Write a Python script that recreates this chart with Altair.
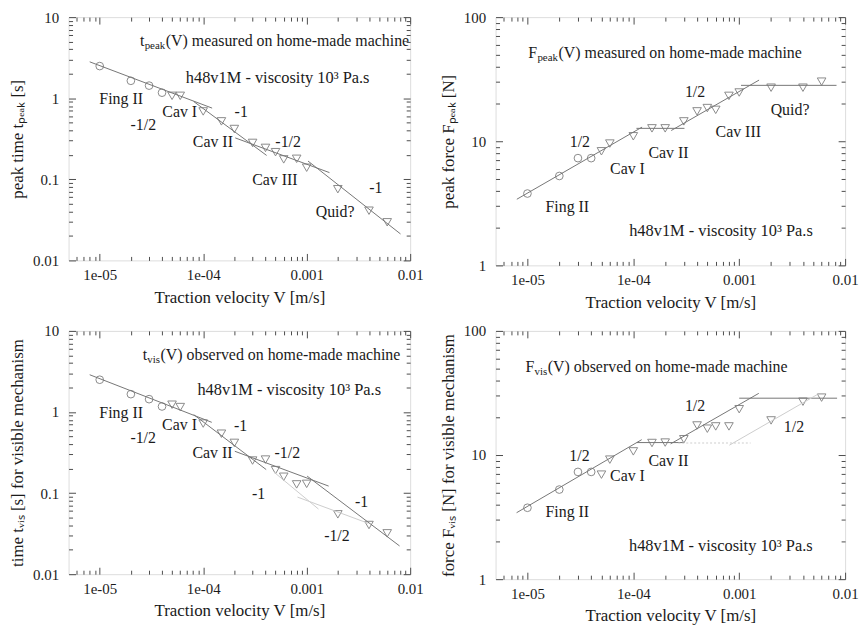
import altair as alt
import pandas as pd

FONT = "Liberation Serif"
INK = "#1a1a1a"
FRAME = "#4d4d4d"
PT = "#8a8a8a"
FIT = "#767676"
LIGHT = "#cdcdcd"

# ---------------- data ----------------
V_CIRC = [1e-5, 2e-5, 3e-5, 4e-5]
V_TRI = [5e-5, 6e-5, 1e-4, 1.5e-4, 2e-4, 3e-4, 4e-4, 5e-4, 6e-4, 8e-4, 1e-3, 2e-3, 4e-3, 6e-3]

TPEAK_CIRC = [2.49, 1.64, 1.43, 1.17]
TPEAK_TRI = [1.07, 1.07, 0.687, 0.518, 0.417, 0.281, 0.244, 0.216, 0.176, 0.179, 0.139, 0.0755, 0.041, 0.0295]

FPEAK_CIRC = [3.79, 5.25, 7.31, 7.31]
FPEAK_TRI = [8.3, 9.58, 10.96, 12.7, 12.7, 14.45, 17.4, 18.5, 17.9, 23.2, 24.7, 27.0, 27.0, 30.2]

TVIS_CIRC = [2.5, 1.66, 1.44, 1.17]
TVIS_TRI = [1.23, 1.15, 0.72, 0.54, 0.416, 0.252, 0.259, 0.192, 0.159, 0.128, 0.130, 0.0547, 0.0404, 0.0319]

FVIS_CIRC = [3.76, 5.27, 7.31, 7.31]
FVIS_TRI = [6.95, 9.18, 10.7, 12.5, 12.6, 13.4, 17.3, 16.3, 17.0, 17.0, 23.4, 19.0, 26.9, 29.0]

# fitted power-law segments: x1, y1, x2, y2
TPEAK_FITS = [(8e-6, 2.81, 1.22e-4, 0.755), (8.1e-5, 0.91, 4.1e-4, 0.197),
              (2.04e-4, 0.324, 1.66e-3, 0.121), (1.03e-3, 0.168, 8.07e-3, 0.0212)]
FPEAK_FITS = [(7.94e-6, 3.41, 1.21e-4, 13.0), (1.07e-4, 12.7, 3.04e-4, 12.7),
              (2.28e-4, 12.2, 1.54e-3, 31.1), (1.04e-3, 28.2, 8.3e-3, 28.2)]
TVIS_FITS = [(8e-6, 2.88, 1.21e-4, 0.746), (8.1e-5, 0.927, 4.06e-4, 0.195),
             (2.02e-4, 0.328, 1.63e-3, 0.122), (1.01e-3, 0.162, 7.9e-3, 0.0223)]
TVIS_LIGHT = [(4.84e-4, 0.181, 1.30e-3, 0.0636), (8.15e-4, 0.0893, 3.94e-3, 0.0424)]
FVIS_FITS = [(7.9e-6, 3.43, 1.2e-4, 13.3), (1.08e-4, 12.6, 3.0e-4, 12.6),
             (2.25e-4, 12.3, 1.53e-3, 31.4), (1e-3, 28.7, 8.4e-3, 28.7)]
FVIS_LIGHT_DOT = [(2.66e-4, 12.5, 1.28e-3, 12.5)]
FVIS_LIGHT = [(8.07e-4, 12.0, 5.5e-3, 30.8)]

# annotations: text, x, y
TPEAK_LABELS = [("Fing II", 1.61e-5, 0.97), ("-1/2", 2.64e-5, 0.47), ("Cav I", 5.93e-5, 0.667),
                ("-1", 2.33e-4, 0.667), ("Cav II", 1.24e-4, 0.286), ("-1/2", 6.62e-4, 0.286),
                ("Cav III", 4.93e-4, 0.098), ("-1", 4.66e-3, 0.079), ("Quid?", 1.88e-3, 0.039)]
FPEAK_LABELS = [("1/2", 3.13e-5, 9.82), ("Fing II", 2.38e-5, 2.96), ("Cav I", 8.8e-5, 5.93),
                ("Cav II", 2.15e-4, 8.07), ("1/2", 3.83e-4, 24.7), ("Cav III", 9.8e-4, 11.8),
                ("Quid?", 3.02e-3, 17.7)]
TVIS_LABELS = [("Fing II", 1.61e-5, 0.97), ("-1/2", 2.63e-5, 0.479), ("Cav I", 5.9e-5, 0.699),
               ("-1", 2.3e-4, 0.679), ("Cav II", 1.23e-4, 0.308), ("-1/2", 6.5e-4, 0.308),
               ("-1", 3.43e-4, 0.096), ("-1", 3.4e-3, 0.0775), ("-1/2", 1.96e-3, 0.0296)]
FVIS_LABELS = [("1/2", 3.1e-5, 9.88), ("Cav I", 8.8e-5, 6.83), ("Fing II", 2.38e-5, 3.47),
               ("Cav II", 2.15e-4, 8.9), ("1/2", 3.83e-4, 24.9), ("1/2", 3.29e-3, 16.8)]

H48_TEXT = "h48v1M - viscosity 10\u00b3 Pa.s"

X_DOMAIN = [5e-6, 1e-2]
X_MAJOR = [1e-5, 1e-4, 1e-3, 1e-2]
X_MINOR = [m * 10.0 ** e for e in (-6, -5, -4, -3) for m in range(2, 10) if 5e-6 <= m * 10.0 ** e < 1e-2]
X_LABELS = "datum.value < 5e-5 ? '1e-05' : datum.value < 5e-4 ? '1e-04' : datum.value < 5e-3 ? '0.001' : '0.01'"

T_DOMAIN = [0.01, 10]
T_MAJOR = [0.01, 0.1, 1, 10]
T_MINOR = [m * 10.0 ** e for e in (-2, -1, 0) for m in range(2, 10)]
T_LABELS = "datum.value < 0.05 ? '0.01' : datum.value < 0.5 ? '0.1' : datum.value < 5 ? '1' : '10'"

F_DOMAIN = [1, 100]
F_MAJOR = [1, 10, 100]
F_MINOR = [m * 10.0 ** e for e in (0, 1) for m in range(2, 10)]
F_LABELS = "datum.value < 5 ? '1' : datum.value < 50 ? '10' : '100'"


def seg_df(segs):
    return pd.DataFrame(segs, columns=["x1", "y1", "x2", "y2"])


def tick_axis(orient, offset, values, size):
    return alt.Axis(orient=orient, offset=offset, values=values, tickSize=size, labels=False,
                    domain=False, grid=False, ticks=True, tickColor=FRAME, tickWidth=1)


def panel(W, H, ydom, ymajor, yminor, ylab, ytitle, circ_y, tri_y, fits, labels,
          sub_first, sub_sub, sub_rest, sub_pos, w_first, w_sub, h48_pos,
          lights=None, lights_dot=None):
    xs = alt.Scale(type="log", domain=X_DOMAIN, nice=False)
    ys = alt.Scale(type="log", domain=ydom, nice=False)

    x_lab = alt.Axis(values=X_MAJOR, labelExpr=X_LABELS, ticks=False, domain=False, grid=False,
                     labelPadding=7, titlePadding=7, labelFontSize=15, titleFontSize=17,
                     labelColor=INK, titleColor=INK, titleFontWeight="normal",
                     labelFont=FONT, titleFont=FONT, labelFlush=False, labelOverlap=False)
    y_lab = alt.Axis(values=ymajor, labelExpr=ylab, ticks=False, domain=False, grid=False,
                     labelPadding=10, titlePadding=6, labelFontSize=15, titleFontSize=17,
                     labelColor=INK, titleColor=INK, titleFontWeight="normal",
                     labelFont=FONT, titleFont=FONT, labelFlush=False, labelOverlap=False)

    circ = pd.DataFrame({"v": V_CIRC, "y": circ_y})
    tri = pd.DataFrame({"v": V_TRI, "y": tri_y})
    lab = pd.DataFrame(labels, columns=["t", "x", "y"])
    one = pd.DataFrame({"x": [sub_pos[0]], "y": [sub_pos[1]]})
    h48 = pd.DataFrame({"x": [h48_pos[0]], "y": [h48_pos[1]], "t": [H48_TEXT]})

    layers = []
    layers.append(alt.Chart(circ).mark_point(shape="circle", filled=False, size=60, color=PT,
                                             strokeWidth=1, opacity=1).encode(
        x=alt.X("v:Q", scale=xs, axis=x_lab, title="Traction velocity V [m/s]"),
        y=alt.Y("y:Q", scale=ys, axis=y_lab, title=ytitle)))
    layers.append(alt.Chart(tri).mark_point(shape="triangle-down", filled=False, size=75, color=PT,
                                            strokeWidth=1, opacity=1).encode(
        x=alt.X("v:Q", scale=xs, axis=tick_axis("top", -H, X_MAJOR, 7), title=None),
        y=alt.Y("y:Q", scale=ys, axis=tick_axis("right", -W, ymajor, 7), title=None)))
    layers.append(alt.Chart(seg_df(fits)).mark_rule(color=FIT, strokeWidth=1).encode(
        x=alt.X("x1:Q", scale=xs, axis=tick_axis("top", -H, X_MINOR, 4), title=None),
        x2="x2:Q",
        y=alt.Y("y1:Q", scale=ys, axis=tick_axis("right", -W, yminor, 4), title=None),
        y2="y2:Q"))
    layers.append(alt.Chart(lab).mark_text(font=FONT, fontSize=16, color=INK, align="center",
                                           baseline="middle").encode(
        x=alt.X("x:Q", scale=xs, axis=tick_axis("bottom", -H, X_MAJOR, 7), title=None),
        y=alt.Y("y:Q", scale=ys, axis=tick_axis("left", -W, ymajor, 7), title=None),
        text="t:N"))
    layers.append(alt.Chart(h48).mark_text(font=FONT, fontSize=16.5, color=INK, align="center",
                                           baseline="middle").encode(
        x=alt.X("x:Q", scale=xs, axis=tick_axis("bottom", -H, X_MINOR, 4), title=None),
        y=alt.Y("y:Q", scale=ys, axis=tick_axis("left", -W, yminor, 4), title=None),
        text="t:N"))
    # composed subtitle with subscript
    for txt, size, dx, dy in [(sub_first, 16, 0, 0), (sub_sub, 11, w_first, 5),
                              (sub_rest, 16, w_first + w_sub, 0)]:
        layers.append(alt.Chart(one).mark_text(font=FONT, fontSize=size, color=INK, align="left",
                                               baseline="middle", dx=dx, dy=dy, text=txt).encode(
            x=alt.X("x:Q", scale=xs, axis=None), y=alt.Y("y:Q", scale=ys, axis=None)))
    if lights:
        layers.append(alt.Chart(seg_df(lights)).mark_rule(color=LIGHT, strokeWidth=1).encode(
            x=alt.X("x1:Q", scale=xs, axis=None), x2="x2:Q",
            y=alt.Y("y1:Q", scale=ys, axis=None), y2="y2:Q"))
    if lights_dot:
        layers.append(alt.Chart(seg_df(lights_dot)).mark_rule(color=LIGHT, strokeWidth=1,
                                                              strokeDash=[2, 2]).encode(
            x=alt.X("x1:Q", scale=xs, axis=None), x2="x2:Q",
            y=alt.Y("y1:Q", scale=ys, axis=None), y2="y2:Q"))

    return alt.layer(*layers).resolve_axis(x="independent", y="independent").properties(
        width=W, height=H)


TL = panel(344, 245, T_DOMAIN, T_MAJOR, T_MINOR, T_LABELS, "peak time t\u209a\u2091\u2090\u2096 [s]",
           TPEAK_CIRC, TPEAK_TRI, TPEAK_FITS, TPEAK_LABELS,
           "t", "peak", "(V) measured on home-made machine", (2.45e-5, 5.1), 4.7, 21.3,
           (5.24e-4, 1.76))
TR = panel(352, 250, F_DOMAIN, F_MAJOR, F_MINOR, F_LABELS, "peak force F\u209a\u2091\u2090\u2096 [N]",
           FPEAK_CIRC, FPEAK_TRI, FPEAK_FITS, FPEAK_LABELS,
           "F", "peak", "(V) measured on home-made machine", (1.02e-5, 50.9), 9.1, 21.3,
           (6.73e-4, 1.89))
BL = panel(344, 245, T_DOMAIN, T_MAJOR, T_MINOR, T_LABELS,
           "time t\u1d65\u1d62\u209b [s] for visible mechanism",
           TVIS_CIRC, TVIS_TRI, TVIS_FITS, TVIS_LABELS,
           "t", "vis", "(V) observed on home-made machine", (2.6e-5, 5.07), 4.7, 13.3,
           (6.78e-4, 1.88), lights=TVIS_LIGHT)
BR = panel(352, 250, F_DOMAIN, F_MAJOR, F_MINOR, F_LABELS,
           "force F\u1d65\u1d62\u209b [N] for visible mechanism",
           FVIS_CIRC, FVIS_TRI, FVIS_FITS, FVIS_LABELS,
           "F", "vis", "(V) observed on home-made machine", (9.6e-6, 51.4), 9.1, 13.3,
           (6.7e-4, 1.85), lights=FVIS_LIGHT, lights_dot=FVIS_LIGHT_DOT)

chart = alt.concat(TL, TR, BL, BR, columns=2, spacing=alt.RowColnumber(row=66, column=86),
                   bounds="flush", align="each").properties(
    padding={"top": -1, "left": 0, "right": 0, "bottom": 0}, background="white"
).configure_view(stroke=FRAME, strokeWidth=1).configure(font=FONT)

chart.save("out.html", embed_options={"renderer": "svg", "actions": False})
